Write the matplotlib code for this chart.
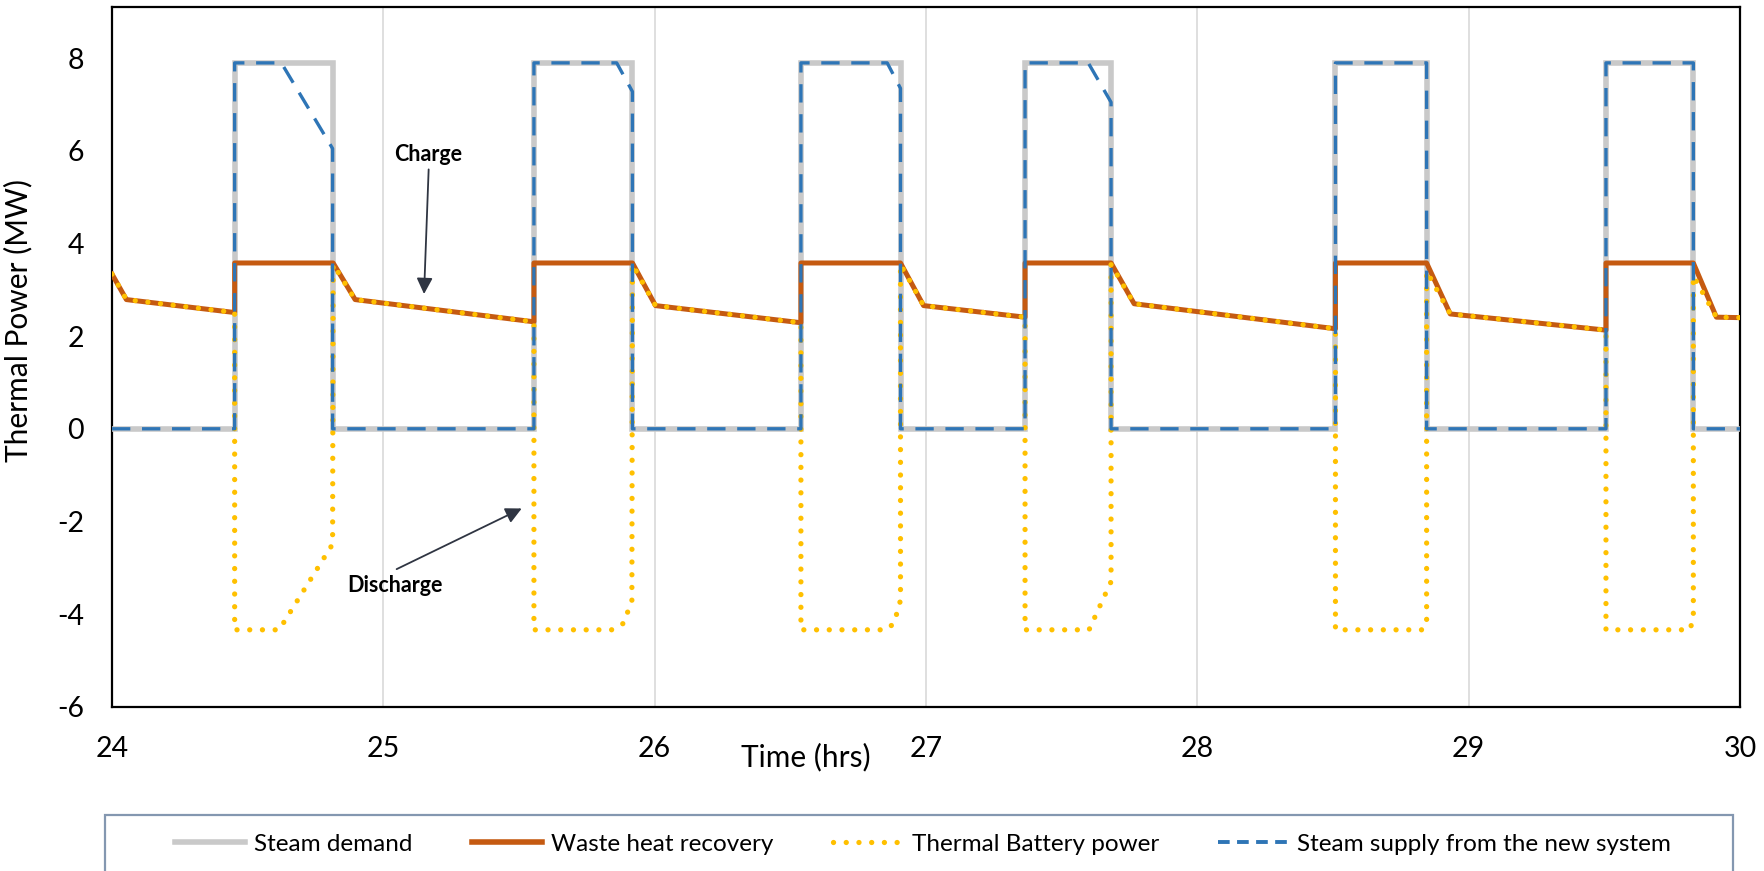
import matplotlib
matplotlib.use("Agg")
import matplotlib.pyplot as plt
from matplotlib.lines import Line2D
from matplotlib.patches import Rectangle

plt.rcParams['font.family'] = ['Lato', 'DejaVu Sans']

# ---------------- data ----------------
demand_t = [24.0, 24.452, 24.452, 24.815, 24.815, 25.555, 25.555, 25.918, 25.918,
            26.539, 26.539, 26.906, 26.906, 27.365, 27.365, 27.682, 27.682,
            28.509, 28.509, 28.845, 28.845, 29.506, 29.506, 29.828, 29.828, 30.0]
demand_v = [0, 0, 7.9, 7.9, 0, 0, 7.9, 7.9, 0,
            0, 7.9, 7.9, 0, 0, 7.9, 7.9, 0,
            0, 7.9, 7.9, 0, 0, 7.9, 7.9, 0, 0]

whr_t = [24.0, 24.053, 24.452, 24.452, 24.815, 24.896, 25.555, 25.555, 25.918,
         26.003, 26.539, 26.539, 26.906, 26.991, 27.365, 27.365, 27.682, 27.767,
         28.509, 28.509, 28.845, 28.932, 29.506, 29.506, 29.828, 29.913, 30.0]
whr_v = [3.34, 2.79, 2.51, 3.58, 3.58, 2.79, 2.31, 3.58, 3.58,
         2.66, 2.29, 3.58, 3.58, 2.66, 2.41, 3.58, 3.58, 2.70,
         2.16, 3.58, 3.58, 2.48, 2.13, 3.58, 3.58, 2.41, 2.40]

battery_t = [24.0, 24.053, 24.452, 24.452, 24.616, 24.813, 24.815, 24.896,
             25.555, 25.555, 25.841, 25.885, 25.916, 25.918, 26.003,
             26.539, 26.539, 26.853, 26.882, 26.906, 26.906, 26.991,
             27.365, 27.365, 27.601, 27.639, 27.682, 27.682, 27.767,
             28.509, 28.509, 28.832, 28.845, 28.845, 28.932,
             29.506, 29.506, 29.815, 29.828, 29.828, 29.913, 30.0]
battery_v = [3.34, 2.79, 2.51, -4.34, -4.34, -2.49, 3.55, 2.79,
             2.31, -4.34, -4.34, -4.2, -3.71, 3.55, 2.66,
             2.29, -4.34, -4.34, -4.2, -3.7, 3.55, 2.66,
             2.41, -4.34, -4.34, -3.85, -3.3, 3.55, 2.70,
             2.16, -4.34, -4.34, -4.15, 3.4, 2.48,
             2.13, -4.34, -4.34, -4.1, 3.3, 2.41, 2.40]

supply_t = [24.0, 24.452, 24.452, 24.624, 24.813, 24.813,
            25.555, 25.555, 25.86, 25.918, 25.918,
            26.539, 26.539, 26.857, 26.906, 26.906,
            27.365, 27.365, 27.598, 27.682, 27.682,
            28.509, 28.509, 28.845, 28.845,
            29.506, 29.506, 29.828, 29.828, 30.0]
supply_v = [0, 0, 7.9, 7.9, 6.05, 0,
            0, 7.9, 7.9, 7.28, 0,
            0, 7.9, 7.9, 7.35, 0,
            0, 7.9, 7.9, 7.05, 0,
            0, 7.9, 7.9, 0,
            0, 7.9, 7.9, 0, 0]

series_labels = ["Steam demand", "Waste heat recovery", "Thermal Battery power",
                 "Steam supply from the new system"]
x_ticks = [24, 25, 26, 27, 28, 29, 30]
y_ticks = [-6, -4, -2, 0, 2, 4, 6, 8]

# ---------------- styles ----------------
c_gray = "#C9C9C9"
c_orange = "#C55A11"
c_yellow = "#FFC000"
c_blue = "#2E75B6"
c_arrow = "#2F3542"

fig = plt.figure(figsize=(17.65, 8.71), dpi=100)
ax = fig.add_axes([0.06346, 0.18863, 0.92238, 0.80298])

ax.plot(demand_t, demand_v, color=c_gray, lw=4.0, solid_joinstyle='miter', zorder=3)
ax.plot(whr_t, whr_v, color=c_orange, lw=3.6, zorder=4)
ax.plot(battery_t, battery_v, color=c_yellow, lw=3.8, dashes=(0.01, 2.4),
        dash_capstyle='round', zorder=5)
ax.plot(supply_t, supply_v, color=c_blue, lw=2.4, dashes=(5.5, 3.5), zorder=6)

ax.set_xlim(24, 30)
ax.set_ylim(-6, 9.1)
ax.set_xticks(x_ticks)
ax.set_yticks(y_ticks)
ax.set_xticklabels([str(v) for v in x_ticks])
ax.set_yticklabels([str(v) for v in y_ticks])
ax.tick_params(axis='x', length=0, pad=21, labelsize=20.5)
ax.tick_params(axis='y', length=0, pad=20, labelsize=20.5)
ax.grid(axis='x', color="#D9D9D9", lw=1.2, zorder=0)
ax.grid(axis='y', visible=False)
for s in ax.spines.values():
    s.set_color("black")
    s.set_linewidth(1.6)

ax.set_ylabel("Thermal Power (MW)", fontsize=21.5)
ax.yaxis.set_label_coords(-0.0488, 0.5515)
ax.set_xlabel("Time (hrs)", fontsize=21.5)
ax.xaxis.label.set_va('center')
ax.xaxis.set_label_coords(0.4263, -0.072)

# annotations
ax.text(25.165, 5.92, "Charge", fontsize=15.5, fontweight='bold', ha='center', va='center', zorder=7)
ax.annotate("", xy=(25.150, 2.91), xytext=(25.167, 5.60),
            arrowprops=dict(arrowstyle='-|>', color=c_arrow, lw=1.3, mutation_scale=24,
                            shrinkA=0, shrinkB=0), zorder=7)
ax.text(25.044, -3.39, "Discharge", fontsize=15.5, fontweight='bold', ha='center', va='center', zorder=7)
ax.annotate("", xy=(25.510, -1.72), xytext=(25.049, -3.03),
            arrowprops=dict(arrowstyle='-|>', color=c_arrow, lw=1.3, mutation_scale=24,
                            shrinkA=0, shrinkB=0), zorder=7)

# legend
handles = [
    Line2D([], [], color=c_gray, lw=4.0),
    Line2D([], [], color=c_orange, lw=4.0),
    Line2D([], [], color=c_yellow, lw=3.8, dashes=(0.01, 2.4), dash_capstyle='round'),
    Line2D([], [], color=c_blue, lw=2.8, dashes=(3.0, 1.9)),
]
leg = fig.legend(handles, series_labels, loc='center', bbox_to_anchor=(923 / 1765, 1 - 844 / 871),
                 ncol=4, frameon=False, fontsize=17.5, handlelength=2.9, handletextpad=0.35,
                 columnspacing=2.45, borderpad=0.0)
fig.add_artist(Rectangle((105 / 1765, -0.05), (1733 - 105) / 1765, (0.05 + 1 - 815 / 871),
                         transform=fig.transFigure, fill=False, edgecolor="#8497B0", lw=1.6,
                         clip_on=False))

fig.savefig("out.png", dpi=100)
